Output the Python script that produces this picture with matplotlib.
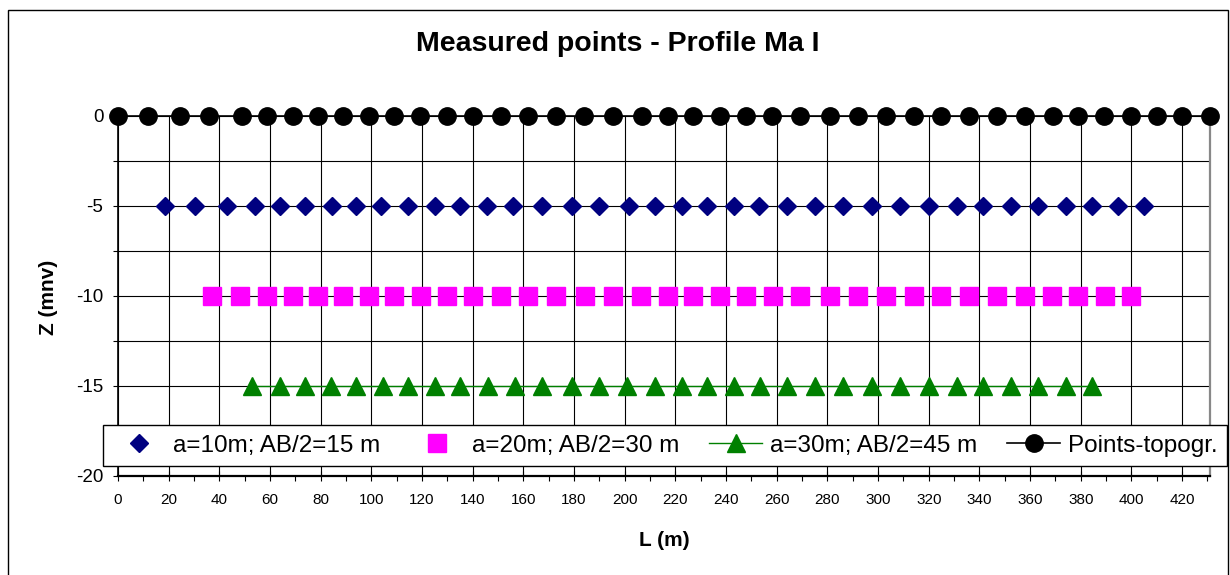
import matplotlib.pyplot as plt
from matplotlib.patches import Rectangle
from matplotlib.ticker import MultipleLocator

plt.rcParams["font.family"] = ["Liberation Sans", "DejaVu Sans"]
plt.rcParams["axes.unicode_minus"] = False

# distances along the profile (m)
L_a10 = [18.5, 30.5, 43, 54, 64, 74, 84.5, 94, 104, 114.5, 125, 135, 145.5, 156,
         167.5, 179, 190, 201.5, 212, 222.5, 232.5, 243, 253, 264, 275, 286, 297.5,
         308.5, 320, 331, 341.5, 352.5, 363, 374, 384.5, 394.5, 405]
L_a20 = [37, 48, 59, 69, 79, 89, 99, 109, 119.5, 130, 140, 151, 162, 173, 184.5,
         195.5, 206.5, 217, 227, 237.5, 248, 258.5, 269, 281, 292, 303, 314, 325,
         336, 347, 358, 368.5, 379, 389.5, 400]
L_a30 = [53, 64, 74, 84, 94, 104.5, 114.5, 125, 135, 146, 156.5, 167.5, 179, 190,
         201, 212, 222.5, 232.5, 243, 253.5, 264, 275, 286, 297.5, 308.5, 320, 331,
         341.5, 352.5, 363, 374, 384.5]
L_topo = [0, 12, 24.5, 36, 49, 59, 69, 79, 89, 99, 109, 119, 130, 140, 151, 162,
          173, 184, 195.5, 207, 217, 227, 237.5, 248, 258, 269, 281, 292, 303, 314,
          325, 336, 347, 358, 369, 379, 389, 400, 410, 420, 431]

# depth levels (Z) of each series
z_a10 = -5
z_a20 = -10
z_a30 = -15
z_topo = 0

labels = ["a=10m; AB/2=15 m", "a=20m; AB/2=30 m", "a=30m; AB/2=45 m", "Points-topogr."]

fig = plt.figure(figsize=(12.3, 5.75), dpi=100)
ax = fig.add_axes([118 / 1230, 1 - 476 / 575, (1210 - 118) / 1230, (476 - 116) / 575])

h1, = ax.plot(L_a10, [z_a10] * len(L_a10), ls="none", marker="D", ms=8.7,
              color="#000080", clip_on=False, zorder=4)
h2, = ax.plot(L_a20, [z_a20] * len(L_a20), ls="none", marker="s", ms=12.5,
              color="#FF00FF", clip_on=False, zorder=4)
h3, = ax.plot(L_a30, [z_a30] * len(L_a30), ls="-", lw=1.0, marker="^", ms=12.7,
              color="#008000", clip_on=False, zorder=4)
h4, = ax.plot(L_topo, [z_topo] * len(L_topo), ls="-", lw=1.2, marker="o", ms=12.5,
              color="black", clip_on=False, zorder=5)

ax.set_xlim(0, 431)
ax.set_ylim(-20, 0)
ax.xaxis.set_major_locator(MultipleLocator(20))
ax.xaxis.set_minor_locator(MultipleLocator(10))
ax.yaxis.set_major_locator(MultipleLocator(5))
ax.yaxis.set_minor_locator(MultipleLocator(2.5))
ax.grid(True, which="major", axis="x", color="black", lw=0.8)
ax.grid(True, which="both", axis="y", color="black", lw=0.8)
ax.set_axisbelow(True)

ax.tick_params(axis="x", which="major", direction="inout", length=7, width=0.8,
               labelsize=11, pad=9)
ax.tick_params(axis="x", which="minor", direction="out", length=3.5, width=0.8)
ax.tick_params(axis="y", which="both", direction="out", length=3.5, width=0.8,
               labelsize=13.5, pad=7)

ax.spines["top"].set_visible(False)
ax.spines["right"].set_color("#888888")
ax.spines["right"].set_linewidth(1.6)
ax.spines["left"].set_linewidth(1.2)
ax.spines["bottom"].set_linewidth(1.6)

leg = fig.legend([h1, h2, h3, h4], labels, loc="center", ncol=4, mode="expand",
                 bbox_to_anchor=(103 / 1230, 1 - 472 / 575, 1124 / 1230, 53 / 575),
                 fontsize=17.5, frameon=True, fancybox=False, framealpha=1,
                 edgecolor="black", handlelength=2.2, handletextpad=0.3,
                 borderaxespad=0, borderpad=0.4, numpoints=1)
leg.get_frame().set_linewidth(1.0)
leg.set_zorder(10)

fig.text(618 / 1230, 1 - 44 / 575, "Measured points - Profile Ma I", ha="center",
         va="center", fontsize=20.5, fontweight="bold")
fig.text(48 / 1230, 1 - 297 / 575, "Z (mnv)", ha="center", va="center",
         rotation=90, fontsize=15, fontweight="bold")
fig.text(664 / 1230, 1 - 540 / 575, "L (m)", ha="center", va="center",
         fontsize=15, fontweight="bold")

fig.patches.append(Rectangle((8 / 1230, -0.01), 1220 / 1230, 1.01 - 10 / 575,
                             transform=fig.transFigure, fill=False,
                             edgecolor="black", lw=1.0))

fig.savefig("out.png", dpi=100)
